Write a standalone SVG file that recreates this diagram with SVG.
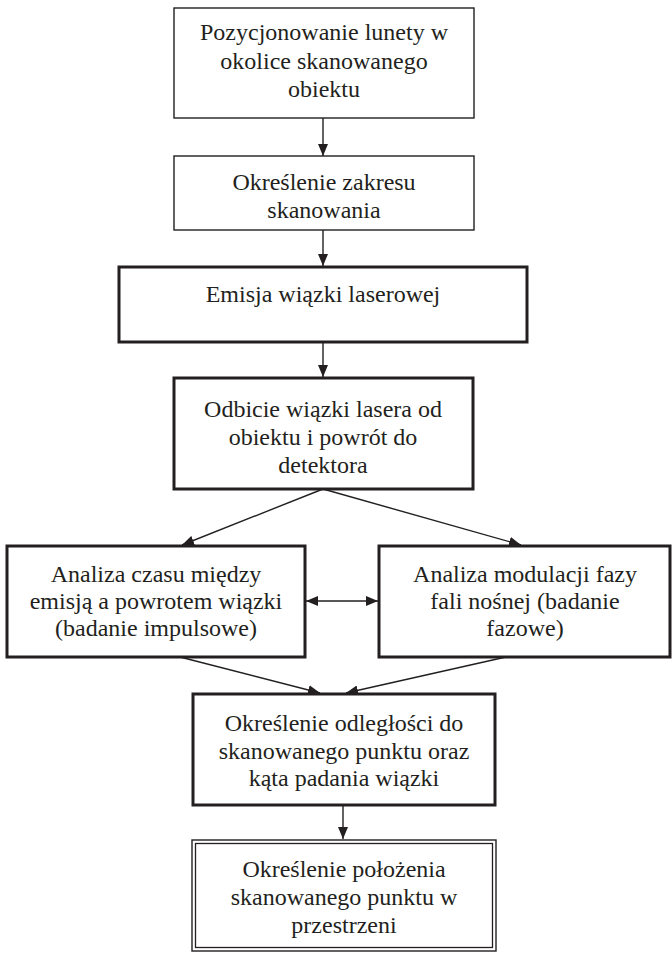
<svg xmlns="http://www.w3.org/2000/svg" width="672" height="954" viewBox="0 0 672 954">
<style>
  .bg{fill:#ffffff}
  .thin{fill:#ffffff;stroke:#231f20;stroke-width:1.4}
  .thick{fill:#ffffff;stroke:#231f20;stroke-width:3}
  .dbl{fill:none;stroke:#231f20;stroke-width:1.3}
  .conn{fill:none;stroke:#231f20;stroke-width:1.4}
  text{font-family:"Liberation Serif","Times New Roman",serif;font-size:24px;fill:#231f20;text-anchor:middle}
</style>
<defs>
  <marker id="ah" viewBox="0 0 12 10" refX="12" refY="5" markerWidth="12" markerHeight="10" markerUnits="userSpaceOnUse" orient="auto-start-reverse">
    <path d="M0,0 L12,5 L0,10 z" fill="#231f20"/>
  </marker>
</defs>
<rect class="bg" x="0" y="0" width="672" height="954"/>

<g id="connectors">
  <line class="conn" x1="323" y1="118" x2="323" y2="156" marker-end="url(#ah)"/>
  <line class="conn" x1="323" y1="230" x2="323" y2="266" marker-end="url(#ah)"/>
  <line class="conn" x1="323" y1="342" x2="323" y2="377" marker-end="url(#ah)"/>
  <line class="conn" x1="323" y1="489" x2="182" y2="545" marker-end="url(#ah)"/>
  <line class="conn" x1="323" y1="489" x2="521" y2="545" marker-end="url(#ah)"/>
  <line class="conn" x1="306" y1="601" x2="378" y2="601" marker-start="url(#ah)" marker-end="url(#ah)"/>
  <line class="conn" x1="180" y1="657" x2="320" y2="693" marker-end="url(#ah)"/>
  <line class="conn" x1="506" y1="657" x2="346" y2="693" marker-end="url(#ah)"/>
  <line class="conn" x1="343" y1="805" x2="343" y2="839" marker-end="url(#ah)"/>
</g>

<g id="n1">
  <rect class="thin" x="174" y="8" width="300" height="110"/>
  <text x="324" y="40">Pozycjonowanie lunety w</text>
  <text x="324" y="69">okolice skanowanego</text>
  <text x="324" y="97">obiektu</text>
</g>
<g id="n2">
  <rect class="thin" x="174" y="156" width="300" height="74"/>
  <text x="324" y="190">Określenie zakresu</text>
  <text x="324" y="218">skanowania</text>
</g>
<g id="n3">
  <rect class="thick" x="119" y="267" width="408" height="75"/>
  <text x="323" y="302">Emisja wiązki laserowej</text>
</g>
<g id="n4">
  <rect class="thick" x="174" y="378" width="299" height="111"/>
  <text x="323" y="417">Odbicie wiązki lasera od</text>
  <text x="323" y="445">obiektu i powrót do</text>
  <text x="323" y="473">detektora</text>
</g>
<g id="n5">
  <rect class="thick" x="7" y="546" width="298" height="111"/>
  <text x="156" y="582">Analiza czasu między</text>
  <text x="156" y="609">emisją a powrotem wiązki</text>
  <text x="156" y="636">(badanie impulsowe)</text>
</g>
<g id="n6">
  <rect class="thick" x="379" y="546" width="291" height="111"/>
  <text x="525" y="582">Analiza modulacji fazy</text>
  <text x="525" y="609">fali nośnej (badanie</text>
  <text x="525" y="636">fazowe)</text>
</g>
<g id="n7">
  <rect class="thick" x="193" y="694" width="302" height="111"/>
  <text x="344" y="731">Określenie odległości do</text>
  <text x="344" y="759">skanowanego punktu oraz</text>
  <text x="344" y="786">kąta padania wiązki</text>
</g>
<g id="n8">
  <rect class="thin" x="192" y="840" width="304" height="111"/>
  <rect class="dbl" x="195.5" y="843.5" width="297" height="104"/>
  <text x="344" y="877">Określenie położenia</text>
  <text x="344" y="905">skanowanego punktu w</text>
  <text x="344" y="933">przestrzeni</text>
</g>
</svg>
